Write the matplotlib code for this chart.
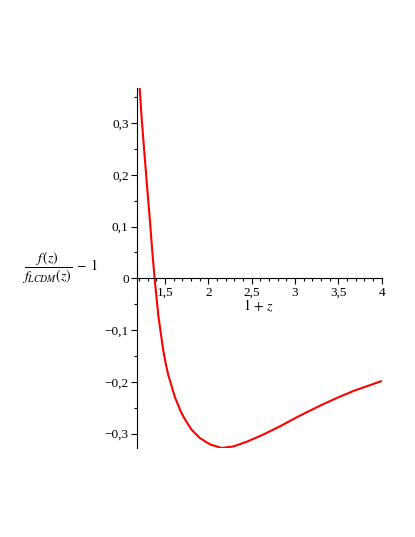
import matplotlib
matplotlib.use("Agg")
import matplotlib.pyplot as plt
from matplotlib.ticker import MultipleLocator, FuncFormatter

plt.rcParams["font.family"] = "Liberation Serif"
plt.rcParams["mathtext.fontset"] = "stix"

# curve: x = 1+z, y = f/f_LCDM - 1
zp1 = [1.208, 1.231, 1.261, 1.292, 1.324, 1.354, 1.380, 1.423, 1.480,
       1.510, 1.538, 1.615, 1.681, 1.731, 1.808, 1.904, 2.019, 2.154,
       2.288, 2.442, 2.634, 2.827, 3.038, 3.290, 3.500, 3.670, 3.990]
dev = [0.367, 0.309, 0.245, 0.180, 0.116, 0.051, 0.000, -0.072, -0.140,
       -0.166, -0.187, -0.230, -0.257, -0.273, -0.293, -0.309, -0.321,
       -0.328, -0.325, -0.316, -0.302, -0.286, -0.267, -0.246, -0.230,
       -0.218, -0.199]

x_ticks = [1.5, 2, 2.5, 3, 3.5, 4]
y_ticks = [-0.3, -0.2, -0.1, 0, 0.1, 0.2, 0.3]


def comma(v, pos):
    s = "%g" % round(v, 2)
    return s.replace(".", ",").replace("-", "\u2212")


fig = plt.figure(figsize=(4.15, 5.37), dpi=100)
ax = fig.add_axes([137 / 415, 1 - 448 / 537, (381.7 - 137) / 415, (448 - 88) / 537])

ax.plot(zp1, dev, color="red", linewidth=1.5, solid_joinstyle="round")

ax.set_xlim(1.177, 4.0)
ax.set_ylim(-0.328, 0.368)

ax.spines["top"].set_visible(False)
ax.spines["right"].set_visible(False)
ax.spines["bottom"].set_position(("data", 0))

ax.set_xticks(x_ticks)
ax.set_yticks(y_ticks)
ax.xaxis.set_minor_locator(MultipleLocator(0.1))
ax.yaxis.set_minor_locator(MultipleLocator(0.05))
ax.xaxis.set_major_formatter(FuncFormatter(comma))
ax.yaxis.set_major_formatter(FuncFormatter(comma))
ax.tick_params(which="major", length=4, width=0.8, labelsize=9.5, pad=2)
ax.tick_params(which="minor", length=2, width=0.8)

ax.text(2.58, -0.053, r"$1\,+\,z$", fontsize=10, ha="center", va="center")
fig.text(60 / 415, 1 - 268 / 537, r"$\dfrac{f\,(z)}{f_{LCDM}(z)}\;-\;1$",
         fontsize=10, ha="center", va="center")

fig.savefig("out.png", dpi=100)
